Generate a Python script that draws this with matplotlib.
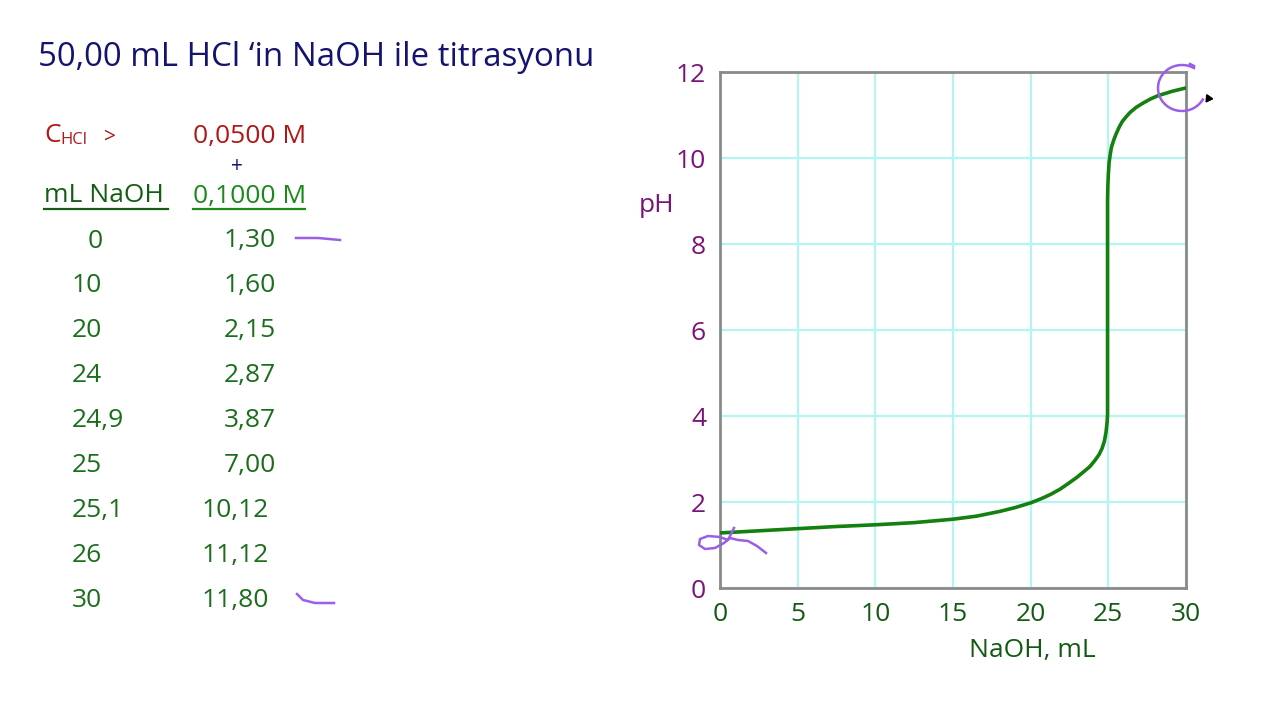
import numpy as np
import matplotlib
matplotlib.use('Agg')
import matplotlib.pyplot as plt

# titration table (as printed on the slide)
ml_naoh = ['0', '10', '20', '24', '24,9', '25', '25,1', '26', '30']
ph_table = ['1,30', '1,60', '2,15', '2,87', '3,87', '7,00', '10,12', '11,12', '11,80']

# curve
curve_x = [0.0, 2.5, 5.0, 7.5, 10.0, 12.5, 15.0, 16.5, 18.0, 19.0, 20.0, 20.7, 21.3,
           21.9, 22.5, 23.0, 23.4, 23.8, 24.1, 24.4, 24.6, 24.75, 24.85, 24.92, 24.95,
           24.95, 24.97, 25.0, 25.05, 25.12, 25.2, 25.35, 25.5, 25.7, 25.9, 26.15,
           26.4, 26.8, 27.2, 27.7, 28.2, 29.1, 30.0]
curve_ph = [1.28, 1.33, 1.38, 1.43, 1.47, 1.52, 1.60, 1.67, 1.78, 1.87, 1.98, 2.08, 2.18,
            2.30, 2.45, 2.58, 2.70, 2.82, 2.95, 3.10, 3.25, 3.42, 3.62, 3.85, 4.05,
            9.00, 9.35, 9.62, 9.90, 10.08, 10.25, 10.42, 10.56, 10.72, 10.85, 10.96,
            11.06, 11.18, 11.27, 11.37, 11.45, 11.55, 11.63]

xticks = [0, 5, 10, 15, 20, 25, 30]
yticks = [0, 2, 4, 6, 8, 10, 12]

plt.rcParams['font.family'] = ['Open Sans', 'DejaVu Sans']

fig = plt.figure(figsize=(12.8, 7.2), dpi=100)
fig.patch.set_facecolor('white')

ax = fig.add_axes([720/1280, 132/720, 466/1280, 516/720])
ax.plot(curve_x, curve_ph, color='#13800f', lw=2.6, solid_capstyle='round',
        solid_joinstyle='round', zorder=3)
ax.set_xlim(0, 30)
ax.set_ylim(0, 12)
ax.set_xticks(xticks)
ax.set_yticks(yticks)
ax.grid(True, color='#b4f5f2', lw=1.6)
ax.set_axisbelow(True)
for s in ax.spines.values():
    s.set_color('#8a8a8a')
    s.set_linewidth(2)
ax.tick_params(length=0, labelsize=19)
ax.tick_params(axis='x', labelcolor='#135a13', pad=10)
ax.tick_params(axis='y', labelcolor='#7a1478', pad=10)

# overlay in pixel coords for texts and pen strokes
ov = fig.add_axes([0, 0, 1, 1], zorder=5)
ov.set_xlim(0, 1280)
ov.set_ylim(720, 0)
ov.axis('off')
ov.patch.set_alpha(0)

ov.text(657, 205, 'pH', color='#7a1478', fontsize=19, ha='center', va='center')
ov.text(1032, 650, 'NaOH, mL', color='#135a13', fontsize=19, ha='center', va='center')

ov.text(38, 57, '50,00 mL HCl \u2018in NaOH ile titrasyonu', color='#141470',
        fontsize=23.8, ha='left', va='center')
ov.text(44, 136, 'C', color='#b01818', fontsize=19, ha='left', va='center')
ov.text(60, 140, 'HCl', color='#b01818', fontsize=12, ha='left', va='center')
ov.text(104, 137, '>', color='#b01818', fontsize=15, ha='left', va='center')
ov.text(193, 136, '0,0500 M', color='#b01818', fontsize=19, ha='left', va='center')
ov.text(237, 166, '+', color='#141470', fontsize=15, ha='center', va='center')
ov.text(44, 196, 'mL NaOH', color='#145e14', fontsize=19, ha='left', va='center')
ov.plot([44, 168], [209, 209], color='#145e14', lw=1.6)
ov.text(193, 196, '0,1000 M', color='#1a8a1a', fontsize=19, ha='left', va='center')
ov.plot([193, 305], [209, 209], color='#1a8a1a', lw=1.6)

row_y = 241
for v, p in zip(ml_naoh, ph_table):
    ov.text(88 if v == '0' else 72, row_y, v, color='#1b6e1b', fontsize=19,
            ha='left', va='center')
    ov.text(276 if len(p) == 4 else 269, row_y, p, color='#1b6e1b', fontsize=19,
            ha='right', va='center')
    row_y += 44.9

# purple pen marks
pen = '#9b5ee6'
ov.plot([296, 318, 340], [238, 238, 240], color=pen, lw=1.8)
ov.plot([297, 303, 315, 334], [594, 600, 603, 603], color=pen, lw=1.8)
t = np.linspace(np.deg2rad(60), np.deg2rad(330), 60)
ov.plot(1182 + 24 * np.cos(t), 88 - 23 * np.sin(t), color=pen, lw=1.8)
ov.plot([1194, 1190], [66, 64], color=pen, lw=1.8)
loop_x = [734, 731, 728, 720, 708, 700, 699, 705, 715, 724, 730, 738, 748, 757, 766]
loop_y = [528, 534, 540, 537, 536, 539, 545, 549, 548, 543, 538, 540, 541, 546, 553]
ov.plot(loop_x, loop_y, color=pen, lw=1.8)
ov.plot([1208], [98], marker=(3, 0, 25), color='black', ms=6)

fig.savefig('out.png', dpi=100)
